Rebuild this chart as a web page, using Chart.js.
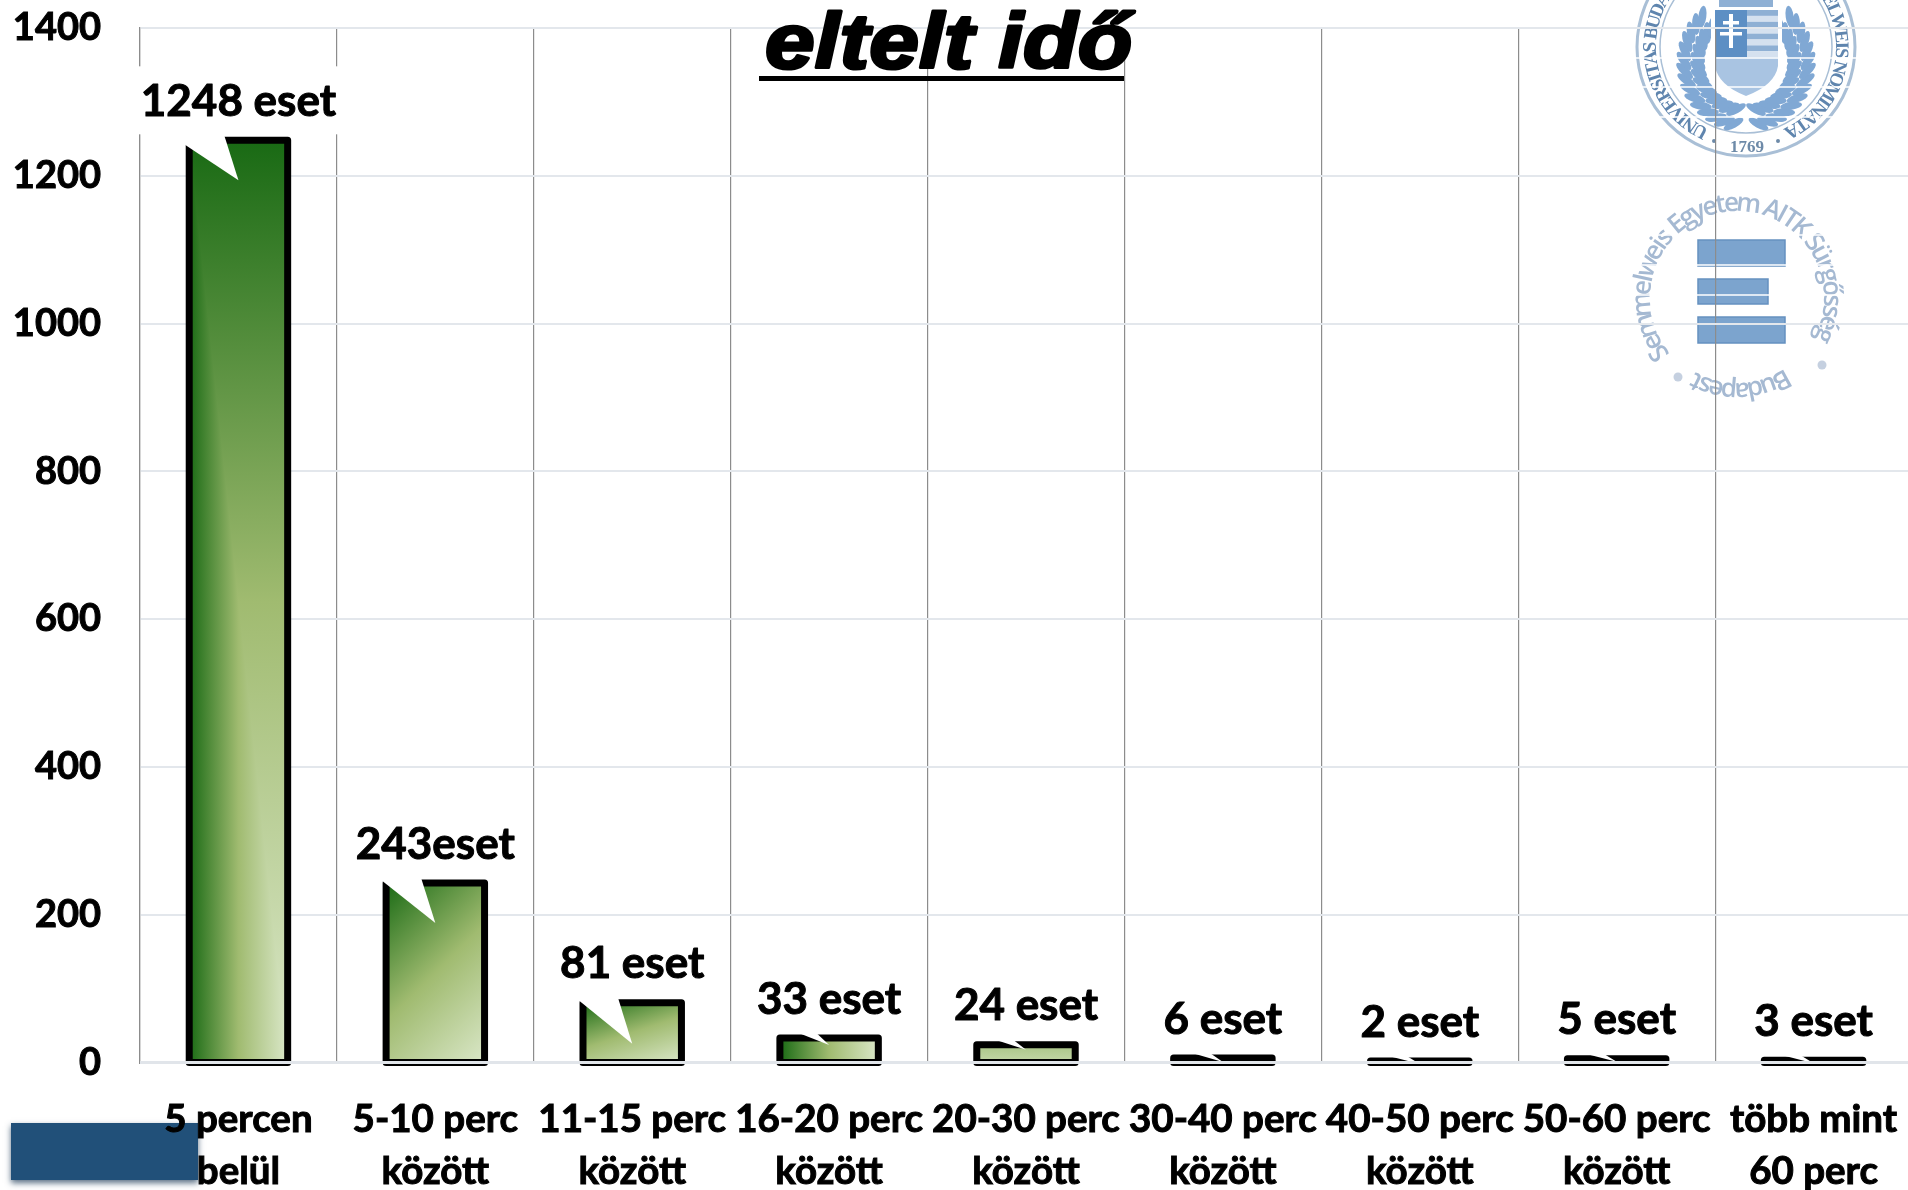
<!DOCTYPE html>
<html>
<head>
<meta charset="utf-8">
<title>eltelt idő</title>
<script src="https://cdn.jsdelivr.net/npm/chart.js@4/dist/chart.umd.min.js"></script>
<style>
html, body { margin: 0; padding: 0; background: #fff; overflow: hidden; width: 1908px; height: 1190px; }
canvas { display: block; }
</style>
</head>
<body>
<canvas id="chart" width="1912" height="1190"></canvas>
<script>
// data
var categories = [
    ['5 percen', 'belül'], ['5-10 perc', 'között'], ['11-15 perc', 'között'],
    ['16-20 perc', 'között'], ['20-30 perc', 'között'], ['30-40 perc', 'között'],
    ['40-50 perc', 'között'], ['50-60 perc', 'között'], ['több mint', '60 perc']
];
var values = [1248, 243, 81, 33, 24, 6, 2, 5, 3];
var valueLabels = ['1248 eset', '243eset', '81 eset', '33 eset', '24 eset', '6 eset', '2 eset', '5 eset', '3 eset'];
var yTicks = [0, 200, 400, 600, 800, 1000, 1200, 1400];

var FONT = 'Lato, Carlito, sans-serif';
var BAR_LINE = 7;
// how far the white wedge bites into each bar, and how each bar is shaded
var notchDepth = [40, 40, 41, 7, 5, 4, 3, 3, 3];
var notchLeft = [4, -3, -3];
var fillMode = ['corner', 'diagonal', 'diagonal', 'horizontal', 'pale', 'pale', 'pale', 'pale', 'pale'];

function addStops(g) {
    g.addColorStop(0, '#196a14');
    g.addColorStop(0.5, '#a0bb70');
    g.addColorStop(1, '#dae7c8');
    return g;
}

// bars get a pattern painted at their own place, the corner shading can't be done with a plain gradient
function barFill(context) {
    var chart = context.chart, i = context.dataIndex;
    var xs = chart.scales.x, ys = chart.scales.y;
    if (!xs || !ys || values[i] === undefined) return '#a0bb70';
    var w = xs.width / categories.length * 0.5;
    var x0 = xs.getPixelForValue(i) - w / 2, y0 = ys.getPixelForValue(values[i]);
    var h = ys.getPixelForValue(0) - y0;
    // scales not laid out yet on the early passes
    if (!isFinite(x0) || !isFinite(y0) || !(w > 0) || !(h > 0)) return '#a0bb70';

    var off = document.createElement('canvas');
    off.width = chart.width;
    off.height = chart.height;
    var c = off.getContext('2d');
    var mode = fillMode[i];
    if (mode === 'corner') {
        c.fillStyle = addStops(c.createLinearGradient(x0, 0, x0 + w, 0));
        c.fillRect(x0, y0, w, h);
        c.beginPath(); c.moveTo(x0, y0); c.lineTo(x0 + w, y0); c.lineTo(x0 + w, y0 + h); c.closePath(); c.clip();
        c.fillStyle = addStops(c.createLinearGradient(0, y0, 0, y0 + h));
        c.fillRect(x0, y0, w, h);
    } else if (mode === 'diagonal') {
        var a = 0.35 / w, b = 0.65 / h, n = a * a + b * b;
        c.fillStyle = addStops(c.createLinearGradient(x0, y0, x0 + a / n, y0 + b / n));
        c.fillRect(x0, y0, w, h);
    } else if (mode === 'horizontal') {
        c.fillStyle = addStops(c.createLinearGradient(x0, 0, x0 + w, 0));
        c.fillRect(x0, y0, w, h);
    } else {
        var g = c.createLinearGradient(0, y0, 0, y0 + h);
        g.addColorStop(0, '#a9c486');
        g.addColorStop(1, '#c4d7a8');
        c.fillStyle = g;
        c.fillRect(x0, y0, w, h);
    }
    return c.createPattern(off, 'no-repeat');
}

// glyphs keep their own widths, the whole string is stretched to the sweep
function arcText(ctx, str, cx, cy, r, fromDeg, toDeg) {
    var widths = str.split('').map(function(ch) { return ctx.measureText(ch).width; });
    var total = widths.reduce(function(s, v) { return s + v; }, 0);
    var used = 0;
    ctx.textAlign = 'center';
    ctx.textBaseline = 'alphabetic';
    for (var i = 0; i < str.length; i++) {
        var ang = (fromDeg + (toDeg - fromDeg) * (used + widths[i] / 2) / total) * Math.PI / 180;
        used += widths[i];
        ctx.save();
        ctx.translate(cx + r * Math.cos(ang), cy + r * Math.sin(ang));
        ctx.rotate(ang + Math.PI / 2);
        ctx.fillText(str[i], 0, 0);
        ctx.restore();
    }
}

function leaf(ctx, x, y, len, wid, rot) {
    ctx.beginPath();
    ctx.ellipse(x, y, len, wid, rot, 0, Math.PI * 2);
    ctx.fill();
}

function drawSeal(ctx) {
    var cx = 1746, cy = 47;
    ctx.save();
    ctx.strokeStyle = '#a9bfd6';
    ctx.lineWidth = 3;
    ctx.beginPath(); ctx.arc(cx, cy, 109, 0, Math.PI * 2); ctx.stroke();
    ctx.lineWidth = 1.5;
    ctx.beginPath(); ctx.arc(cx, cy, 86, 0, Math.PI * 2); ctx.stroke();
    ctx.fillStyle = '#5f85ae';
    ctx.font = 'bold 19px "Liberation Serif"';
    arcText(ctx, 'UNIVERSITAS BUDAPESTINENSIS DE SEMMELWEIS NOMINATA', cx, cy, 90, 115, 425);
    ctx.font = 'bold 17px "Liberation Serif"';
    ctx.textAlign = 'center';
    ctx.fillStyle = '#6d8aa8';
    ctx.fillText('1769', cx + 1, 152);
    ctx.beginPath(); ctx.arc(1714, 141, 2, 0, 7); ctx.arc(1778, 141, 2, 0, 7); ctx.fill();

    // wreath
    ctx.fillStyle = '#80a8d4';
    for (var a = 100; a <= 228; a += 9) {
        var rad = a * Math.PI / 180;
        [46, 60].forEach(function(r) {
            leaf(ctx, cx - 2 + r * Math.cos(rad), 62 + r * Math.sin(rad) * 1.05, 11, 4, rad + 0.9);
            leaf(ctx, cx + 2 - r * Math.cos(rad), 62 + r * Math.sin(rad) * 1.05, 11, 4, -rad - 0.9 + Math.PI);
        });
    }
    // shield
    ctx.fillStyle = '#fff';
    ctx.beginPath();
    ctx.moveTo(1711, 8); ctx.lineTo(1782, 8); ctx.lineTo(1782, 65);
    ctx.quadraticCurveTo(1780, 90, 1746, 102);
    ctx.quadraticCurveTo(1713, 90, 1711, 65);
    ctx.closePath(); ctx.fill();
    ctx.fillStyle = '#5d8fc4';
    ctx.fillRect(1715, 10, 32, 47);
    ctx.fillStyle = '#a9c4e2';
    ctx.beginPath();
    ctx.moveTo(1715, 57); ctx.lineTo(1778, 57); ctx.lineTo(1778, 66);
    ctx.quadraticCurveTo(1775, 85, 1746, 96);
    ctx.quadraticCurveTo(1718, 85, 1715, 66);
    ctx.closePath(); ctx.fill();
    for (var s = 0; s < 8; s++) {
        ctx.fillStyle = s % 2 ? '#d5e1ef' : '#8fb0d4';
        ctx.fillRect(1747, 10 + s * 5.9, 31, 5.9);
    }
    ctx.fillStyle = '#fff';
    ctx.fillRect(1729, 14, 4, 34);
    ctx.fillRect(1723, 21, 16, 3.5);
    ctx.fillRect(1720, 32, 22, 3.5);
    ctx.fillStyle = '#8fb0d4';
    ctx.fillRect(1719, 0, 54, 7);
    ctx.strokeStyle = '#fff';
    ctx.lineWidth = 1.5;
    [58, 87, 117].forEach(function(y) {
        ctx.beginPath(); ctx.moveTo(1636, y); ctx.lineTo(1858, y); ctx.stroke();
    });
    ctx.restore();
}

function drawUnitLogo(ctx) {
    var cx = 1737, cy = 298;
    ctx.save();
    ctx.fillStyle = '#a5b9d2';
    ctx.font = '600 26px "Open Sans"';
    arcText(ctx, 'Semmelweis Egyetem AITK Sürgősség', cx, cy, 87, 141, 387);
    arcText(ctx, 'Budapest', cx, cy, 85, 57, 119);
    ctx.fillStyle = '#c5d0e0';
    ctx.beginPath(); ctx.arc(1822, 365, 4.5, 0, 7); ctx.fill();
    ctx.beginPath(); ctx.arc(1678, 377, 4.5, 0, 7); ctx.fill();
    ctx.fillStyle = '#7ca4ce';
    ctx.strokeStyle = '#6591c0';
    ctx.lineWidth = 1.5;
    [[1698, 240, 87, 26], [1698, 279, 70, 25], [1698, 317, 87, 26]].forEach(function(r) {
        ctx.fillRect(r[0], r[1], r[2], r[3]);
        ctx.strokeRect(r[0], r[1], r[2], r[3]);
    });
    ctx.strokeStyle = '#fff';
    ctx.lineWidth = 1.5;
    [235, 265, 295].forEach(function(y) {
        ctx.beginPath(); ctx.moveTo(1636, y); ctx.lineTo(1850, y); ctx.stroke();
    });
    ctx.restore();
}

var backdropPlugin = {
    id: 'backdrop',
    beforeDraw: function(chart) {
        var ctx = chart.ctx;
        drawSeal(ctx);
        drawUnitLogo(ctx);
        // the dark blue block in the bottom left corner, the first label runs over it
        ctx.save();
        ctx.shadowColor = 'rgba(20, 50, 80, 0.7)';
        ctx.shadowBlur = 6;
        ctx.shadowOffsetY = 3;
        ctx.fillStyle = '#215079';
        ctx.fillRect(11, 1123, 187, 57);
        ctx.restore();
    }
};

var barDecorPlugin = {
    id: 'barDecor',
    afterDatasetsDraw: function(chart) {
        var ctx = chart.ctx;
        var meta = chart.getDatasetMeta(0);
        var ys = chart.scales.y;
        var zero = ys.getPixelForValue(0);
        ctx.save();
        meta.data.forEach(function(bar, i) {
            var p = bar.getProps(['x', 'y', 'width', 'base'], true);
            var left = p.x - p.width / 2, top = p.y, d = notchDepth[i];
            // outline sits centred on the bar edge
            ctx.strokeStyle = '#000';
            ctx.lineWidth = BAR_LINE;
            ctx.lineJoin = 'round';
            ctx.strokeRect(left, top, p.width, zero - top);

            // white wedge cut into the top edge
            ctx.fillStyle = '#fff';
            ctx.beginPath();
            if (d > 20) {
                ctx.moveTo(left - 5, top - 5);
                ctx.lineTo(left - 5, top + notchLeft[i]);
                ctx.lineTo(p.x, top + d);
                ctx.lineTo(left + 35, top - 5);
            } else {
                ctx.moveTo(left + 20, top - 4.5);
                ctx.lineTo(p.x, top + d);
                ctx.lineTo(left + 37, top - 4.5);
            }
            ctx.closePath();
            ctx.fill();

            // value label on a white box
            ctx.font = '700 44px ' + FONT;
            var tw = ctx.measureText(valueLabels[i]).width;
            ctx.fillRect(p.x - tw / 2 - 2, top - 74, tw + 4, 68);
            ctx.fillStyle = '#000';
            ctx.strokeStyle = '#000';
            ctx.lineWidth = 1;
            ctx.textAlign = 'center';
            ctx.textBaseline = 'middle';
            ctx.fillText(valueLabels[i], p.x, top - 38.5);
            ctx.strokeText(valueLabels[i], p.x, top - 38.5);
        });
        // axis line lies over the bottom edge of the bars
        ctx.strokeStyle = '#e1e5ea';
        ctx.lineWidth = 3;
        ctx.beginPath();
        ctx.moveTo(chart.chartArea.left, zero);
        ctx.lineTo(chart.chartArea.right, zero);
        ctx.stroke();

        // title
        ctx.fillStyle = '#000';
        ctx.strokeStyle = '#000';
        ctx.lineWidth = 3;
        ctx.lineJoin = 'round';
        ctx.textAlign = 'left';
        ctx.textBaseline = 'alphabetic';
        ctx.font = 'italic bold 78px "Liberation Sans"';
        ctx.save();
        ctx.translate(765, 68);
        ctx.scale(1.145, 1);
        ctx.fillText('eltelt idő', 0, 0);
        ctx.strokeText('eltelt idő', 0, 0);
        ctx.restore();
        ctx.fillRect(759, 76, 365, 5);
        ctx.restore();
    }
};

new Chart(document.getElementById('chart').getContext('2d'), {
    type: 'bar',
    data: {
        labels: categories,
        datasets: [{
            data: values,
            backgroundColor: barFill,
            borderWidth: 0,
            barPercentage: 1,
            categoryPercentage: 0.5
        }]
    },
    plugins: [backdropPlugin, barDecorPlugin],
    options: {
        responsive: false,
        animation: false,
        events: [],
        layout: { padding: { top: 28, left: 0, right: 0, bottom: 0 } },
        plugins: { legend: { display: false }, tooltip: { enabled: false } },
        scales: {
            x: {
                offset: true,
                grid: { color: '#8c8c8c', lineWidth: 1.2, offset: true, drawTicks: false },
                border: { display: false },
                ticks: {
                    autoSkip: false,
                    maxRotation: 0,
                    minRotation: 0,
                    padding: 31,
                    color: '#000',
                    textStrokeColor: '#000',
                    textStrokeWidth: 1,
                    font: { family: FONT, weight: '700', size: 38.5, lineHeight: 1.35 }
                },
                afterFit: function(scale) {
                    scale.height = 127.5;
                    scale.paddingLeft = 0;
                    scale.paddingRight = 0;
                }
            },
            y: {
                min: 0,
                max: 1400,
                grid: { color: '#e3e7ec', lineWidth: 2, drawTicks: false },
                border: { display: true, color: '#8c8c8c', width: 1.2 },
                afterBuildTicks: function(scale) {
                    scale.ticks = yTicks.map(function(v) { return { value: v }; });
                },
                ticks: {
                    padding: 39,
                    color: '#000',
                    textStrokeColor: '#000',
                    textStrokeWidth: 1,
                    font: { family: FONT, weight: '700', size: 38 },
                    callback: function(v) { return String(v); }
                },
                afterFit: function(scale) {
                    scale.width = 140;
                    scale.paddingTop = 0;
                    scale.paddingBottom = 0;
                }
            }
        }
    }
});
</script>
</body>
</html>
